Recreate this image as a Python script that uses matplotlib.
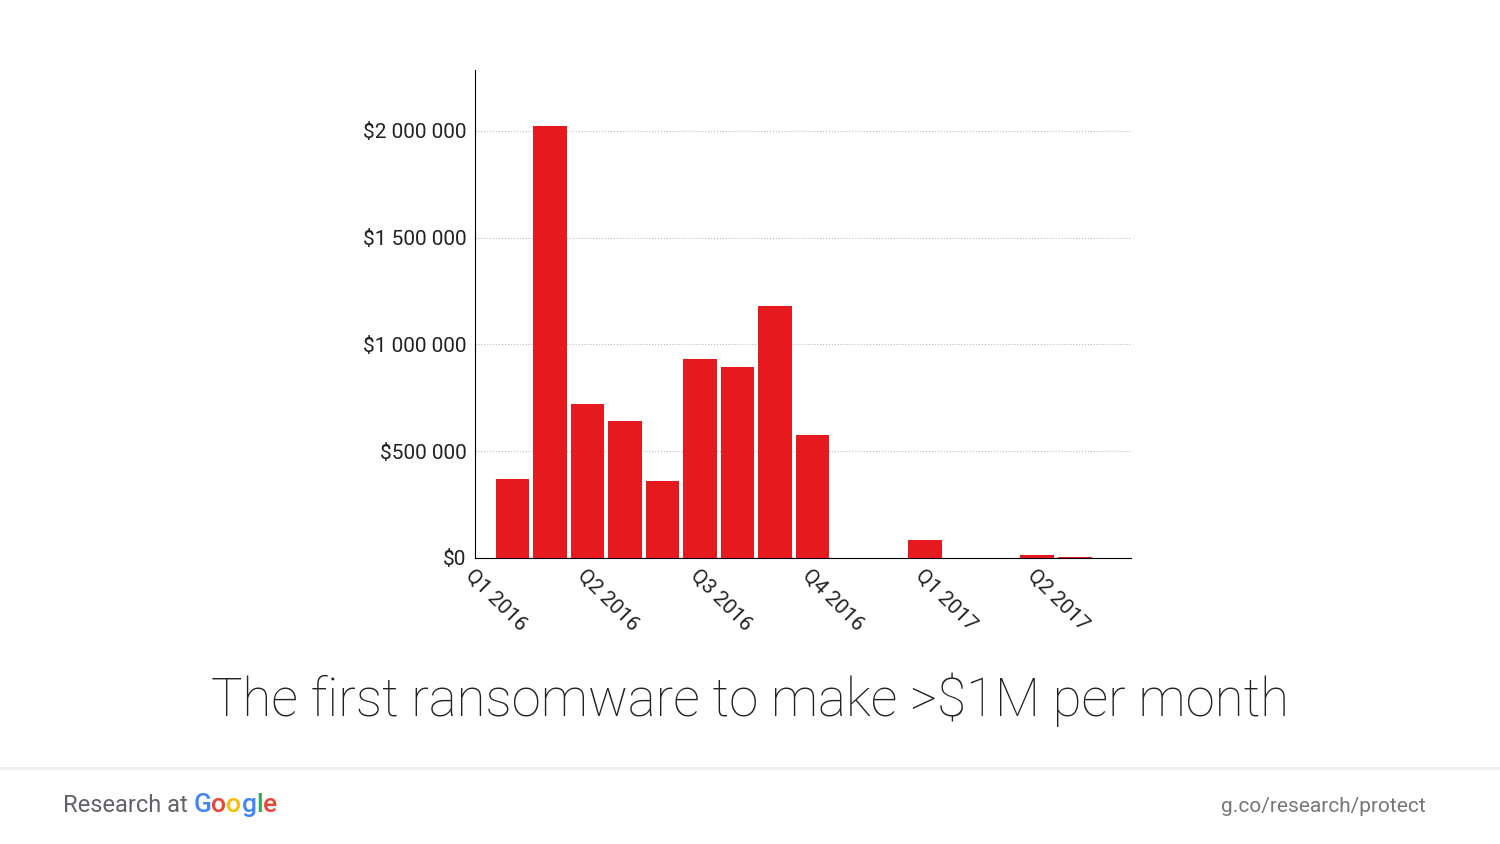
import matplotlib
matplotlib.use('Agg')
import matplotlib.pyplot as plt
from matplotlib.ticker import FuncFormatter

plt.rcParams['font.family'] = ['Roboto', 'DejaVu Sans']

# monthly earnings, bars at month slots 1..16 (ticks every quarter)
months = list(range(1, 17))
earnings = [370000, 2023000, 721000, 642000, 361000, 932000, 895000, 1180000,
            576000, 0, 0, 84000, 0, 0, 14000, 3000]
tick_pos = [0, 3, 6, 9, 12, 15]
tick_labels = ['Q1 2016', 'Q2 2016', 'Q3 2016', 'Q4 2016', 'Q1 2017', 'Q2 2017']

fig = plt.figure(figsize=(15, 8.44), dpi=100)
ax = fig.add_axes([0.3167, 0.3389, 0.4373, 0.5781])
ax.bar(months, earnings, width=0.9, color='#e5191e', zorder=3)
ax.set_xlim(0, 17.5)
ax.set_ylim(0, 2285000)
ax.set_yticks([0, 500000, 1000000, 1500000, 2000000])
ax.yaxis.set_major_formatter(FuncFormatter(lambda v, p: '$' + format(int(v), ',').replace(',', ' ')))
ax.set_xticks(tick_pos)
ax.set_xticklabels(tick_labels, rotation=-45, ha='left', va='top', rotation_mode='anchor')
ax.tick_params(length=0, labelsize=15, colors='#222222', pad=6)
ax.grid(axis='y', linestyle=':', color='#bbbbbb', linewidth=0.8, zorder=0)
for s in ['top', 'right']:
    ax.spines[s].set_visible(False)
ax.spines['left'].set_linewidth(0.8)
ax.spines['bottom'].set_linewidth(0.8)

fig.text(0.5, 0.171, 'The first ransomware to make >$1M per month', ha='center', va='center',
         fontsize=38, color='#222222', fontweight='light')

fig.add_artist(plt.Line2D([0, 1], [1 - 768/844, 1 - 768/844], color='#eeeeee', linewidth=2))

x0 = 63 / 1500
t = fig.text(x0, 1 - 805/844, 'Research at ', fontsize=17, color='#5f6368', va='center')
fig.canvas.draw()
bb = t.get_window_extent()
xpix = bb.x1
for ch, c in zip('Google', ['#4285f4', '#ea4335', '#fbbc05', '#4285f4', '#34a853', '#ea4335']):
    tt = fig.text(xpix / 1500, 1 - 805/844, ch, fontsize=19, color=c, va='center', fontweight='medium')
    fig.canvas.draw()
    xpix = tt.get_window_extent().x1
fig.text(1426 / 1500, 1 - 806/844, 'g.co/research/protect', fontsize=15, color='#777777',
         ha='right', va='center')

fig.savefig('out.png', dpi=100)
